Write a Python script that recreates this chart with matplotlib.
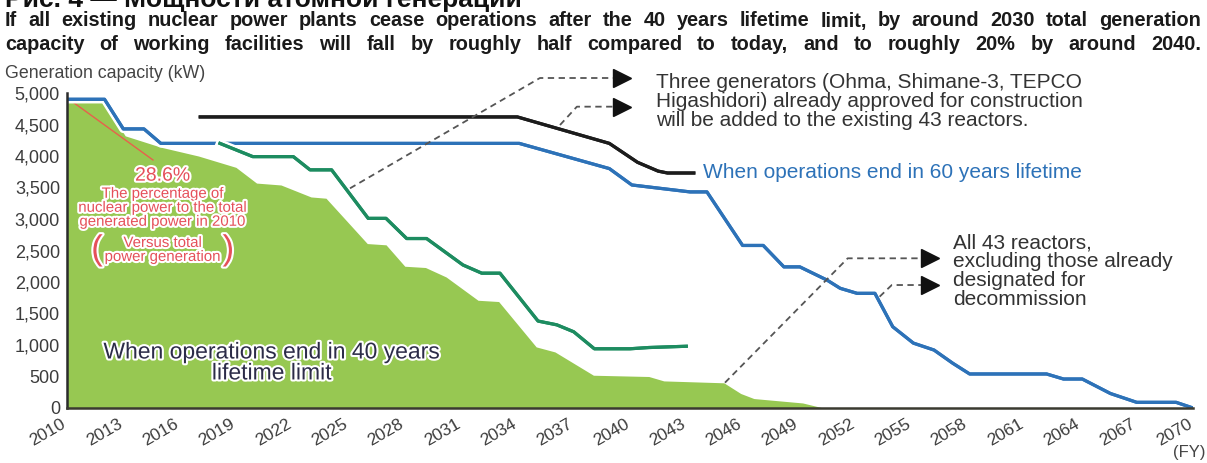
import matplotlib
matplotlib.use("Agg")
import matplotlib.pyplot as plt
import matplotlib.patheffects as pe
from matplotlib.transforms import ScaledTranslation

plt.rcParams['font.family'] = ['Liberation Sans', 'DejaVu Sans']

W, H = 1207, 463

# capacity when every plant stops after 40 years (filled area)
fill_years = [2010.0, 2012.0, 2013.1, 2015.0, 2017.0, 2019.0, 2020.1, 2021.4, 2023.0, 2023.8,
              2026.0, 2027.0, 2028.0, 2029.1, 2030.2, 2031.9, 2033.0, 2035.0, 2036.0, 2038.05,
              2041.0, 2041.8, 2045.0, 2045.9, 2046.6, 2049.2, 2050.3]
fill_cap = [4880, 4850, 4320, 4140, 4000, 3820, 3570, 3540, 3350, 3330,
            2610, 2590, 2250, 2230, 2080, 1710, 1690, 970, 890, 520,
            500, 430, 400, 230, 150, 80, 0]

# 40 years, plus the three approved new units
green_years = [2018.15, 2019.9, 2022.06, 2022.95, 2024.1, 2026.05, 2027.0, 2028.1, 2029.16, 2031.1,
               2032.1, 2033.07, 2035.1, 2036.1, 2037.0, 2038.1, 2040.0, 2041.0, 2043.0]
green_cap = [4200, 3990, 3990, 3780, 3780, 3010, 3010, 2690, 2690, 2270,
             2140, 2140, 1380, 1320, 1210, 940, 940, 960, 980]

# 60-year lifetime
blue_years = [2010, 2012.0, 2013.0, 2014.1, 2015.0, 2034.1, 2038.9, 2040.1, 2043.2, 2044.1,
              2046.0, 2047.1, 2048.2, 2049.05, 2050.5, 2051.2, 2052.1, 2053.05, 2054.0, 2055.1,
              2056.2, 2057.2, 2058.1, 2062.2, 2063.1, 2064.1, 2065.6, 2067.0, 2069.1, 2070]
blue_cap = [4900, 4900, 4430, 4430, 4200, 4200, 3800, 3540, 3430, 3430,
            2580, 2580, 2240, 2240, 2030, 1900, 1820, 1820, 1290, 1030,
            920, 710, 540, 540, 460, 460, 230, 90, 90, 0]

# 60 years, plus the three approved new units
black_years = [2017.1, 2034.0, 2038.9, 2040.4, 2041.5, 2042.0, 2043.4]
black_cap = [4620, 4620, 4200, 3900, 3760, 3730, 3730]

year_ticks = list(range(2010, 2071, 3))
cap_ticks = list(range(0, 5001, 500))

title_lines = [
    "If all existing nuclear power plants cease operations after the 40 years lifetime limit, by around 2030 total generation",
    "capacity of working facilities will fall by roughly half compared to today, and to roughly 20% by around 2040.",
]
header = "Рис. 4 — Мощности атомной генерации"
note_new = "Three generators (Ohma, Shimane-3, TEPCO\nHigashidori) already approved for construction\nwill be added to the existing 43 reactors."
note_all = "All 43 reactors,\nexcluding those already\ndesignated for\ndecommission"
share_lines = ["The percentage of", "nuclear power to the total", "generated power in 2010"]
versus_lines = ["Versus total", "power generation"]

fig = plt.figure(figsize=(W / 100, H / 100), dpi=100)
ax = fig.add_axes([67 / W, 55 / H, (1193 - 67) / W, (408 - 93) / H])
ax.set_xlim(2010, 2070)
ax.set_ylim(0, 5000)

halo = [pe.withStroke(linewidth=6, foreground='white'), pe.Normal()]

ax.fill_between(fill_years, fill_cap, color='#97c852', lw=0, zorder=1)
ax.plot(blue_years, blue_cap, color='#2d72b8', lw=2.3, path_effects=halo, zorder=3)
ax.plot(green_years, green_cap, color='#1d8c60', lw=2.3, path_effects=halo, zorder=3)
ax.plot(black_years, black_cap, color='#1c1c1c', lw=2.3, path_effects=halo, zorder=3)

# red pointer to the 2010 share note
ax.plot([2010.16, 2014.58], [4889, 3937], color='#e8604c', lw=1, zorder=2)

for sp in ['top', 'right']:
    ax.spines[sp].set_visible(False)
ax.spines['left'].set_color('#2b2b2b')
ax.spines['left'].set_linewidth(1.8)
ax.spines['bottom'].set_color('#3a3a30')
ax.spines['bottom'].set_linewidth(1.8)
ax.spines['left'].set_zorder(5)
ax.spines['bottom'].set_zorder(5)

ax.set_yticks(cap_ticks)
ax.set_yticklabels([f"{v:,}" for v in cap_ticks], fontsize=13, color='#3c3c3c')
ax.set_xticks(year_ticks)
ax.set_xticklabels([str(y) for y in year_ticks], fontsize=12.5, color='#3c3c3c',
                   rotation=30, ha='right', va='top', rotation_mode='anchor')
ax.tick_params(axis='y', length=0, pad=5)
ax.tick_params(axis='x', length=0, pad=5)
shift = ScaledTranslation(-6 / 100, -1 / 100, fig.dpi_scale_trans)
for lab in ax.get_xticklabels():
    lab.set_transform(lab.get_transform() + shift)

# dashed leader lines with arrow heads
dash = dict(color='#555555', lw=1.3, ls=(0, (3.5, 2.5)), clip_on=False, zorder=4)
leaders = [
    ([2025.08, 2035.2, 2039.6], [3487, 5238, 5238]),
    ([2036.27, 2037.17, 2039.6], [4492, 4783, 4783]),
    ([2045.06, 2051.6, 2056.0], [402, 2376, 2376]),
    ([2053.3, 2053.95, 2056.0], [1767, 1952, 1952]),
]
for xs, ys in leaders:
    ax.plot(xs, ys, **dash)
    ax.plot(xs[-1], ys[-1], marker='>', ms=13, color='#111111', mec='#111111',
            clip_on=False, zorder=5)

ax.text(2041.4, 4873, note_new, fontsize=15, color='#333333', va='center', ha='left',
        linespacing=1.0)
ax.text(2043.9, 3746, "When operations end in 60 years lifetime", fontsize=15,
        color='#2d72b8', va='center', ha='left')
ax.text(2057.2, 2167, note_all, fontsize=15, color='#333333', va='center', ha='left',
        linespacing=1.0)

outline = [pe.withStroke(linewidth=3, foreground='white')]
ax.text(2020.9, 889, "When operations end in 40 years", fontsize=16.5, color='#2c2c48',
        ha='center', va='center', path_effects=outline)
ax.text(2020.9, 556, "lifetime limit", fontsize=16.5, color='#2c2c48',
        ha='center', va='center', path_effects=outline)

red = '#e5505a'
ax.text(2015.1, 3680, "28.6%", fontsize=14, color=red, ha='center', va='center',
        path_effects=outline)
for i, line in enumerate(share_lines):
    ax.text(2015.1, 3400 - i * 222, line, fontsize=10.8, color=red, ha='center',
            va='center', path_effects=outline)
for i, line in enumerate(versus_lines):
    ax.text(2015.1, 2620 - i * 222, line, fontsize=10.8, color=red, ha='center',
            va='center', path_effects=outline)
ax.text(2011.6, 2510, "(", fontsize=25, color=red, ha='center', va='center',
        path_effects=outline)
ax.text(2018.6, 2510, ")", fontsize=25, color=red, ha='center', va='center',
        path_effects=outline)

fig.text(5 / W, 1 - 73 / H, "Generation capacity (kW)", fontsize=12.8, color='#444444',
         va='center', ha='left')
fig.text(1205 / W, 1 - 452 / H, "(FY)", fontsize=12, color='#444444', va='center', ha='right')

# cut-off figure heading at the very top
fig.text(5 / W, 1 - 7 / H, header, fontsize=19, fontweight='bold', color='#111111',
         va='baseline', ha='left')


def justify(words, y_px, x0, x1, **kw):
    renderer = fig.canvas.get_renderer()
    texts = [fig.text(0, 1 - y_px / H, w, va='center', ha='left', **kw) for w in words]
    widths = [t.get_window_extent(renderer).width for t in texts]
    gap = (x1 - x0 - sum(widths)) / (len(words) - 1)
    x = x0
    for t, w in zip(texts, widths):
        t.set_x(x / W)
        x += w + gap


justify(title_lines[0].split(), 21, 5, 1201, fontsize=14.3, fontweight='bold', color='#1a1a1a')
justify(title_lines[1].split(), 45, 5, 1201, fontsize=14.3, fontweight='bold', color='#1a1a1a')

fig.savefig("out.png", dpi=100)
